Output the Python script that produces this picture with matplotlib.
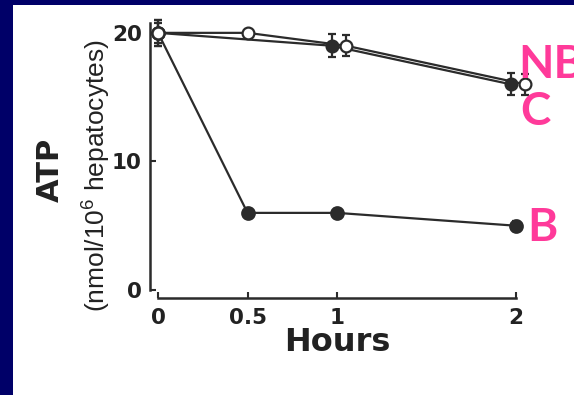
import numpy as np
import matplotlib
matplotlib.use("Agg")
import matplotlib.pyplot as plt
from matplotlib.patches import Rectangle

# ATP (nmol/10^6 hepatocytes) over time
hours_c = [0, 0.5, 1, 2]
atp_c = [20, 20, 19, 16]
err_c = [0.8, 0.0, 0.8, 0.8]

hours_nb = [0, 1, 2]
atp_nb = [20, 19, 16]
err_nb = [1.0, 0.9, 0.85]

hours_b = [0, 0.5, 1, 2]
atp_b = [20, 6, 6, 5]
err_b = [1.0, 0.3, 0.3, 0.4]

x_ticks = [0, 0.5, 1, 2]
x_ticklabels = ["0", "0.5", "1", "2"]
y_ticks = [0, 10, 20]

plt.rcParams['font.family'] = ['DejaVu Sans']
plt.rcParams['mathtext.default'] = 'regular'

navy = '#000068'
ink = '#2b2b2b'
pink = '#ff3a9a'

fig = plt.figure(figsize=(5.74, 3.95), dpi=100, facecolor=navy)
fig.patches.append(Rectangle((13 / 574, 0), 1, 390 / 395, transform=fig.transFigure,
                             facecolor='white', edgecolor='none', zorder=-5))

ax = fig.add_axes([150 / 574, 97 / 395, 370 / 574, 278 / 395])
ax.set_zorder(2)
ax.patch.set_alpha(0)


def shift(h, dx):
    h = np.asarray(h, dtype=float)
    return h + np.where(h >= 1, dx, 0)


series = [
    (shift(hours_nb, -0.03), atp_nb, err_nb, ink, 8.5),
    (shift(hours_c, 0.05), atp_c, err_c, 'white', 8.5),
    (np.asarray(hours_b), atp_b, err_b, ink, 9),
]
for i, (x, y, e, face, ms) in enumerate(series):
    lines = ax.errorbar(x, y, yerr=e, color=ink, lw=1.6, marker='o', ms=ms,
                        mfc=face, mec=ink, mew=1.6, capsize=3, elinewidth=1.6,
                        capthick=1.6, zorder=4 if face == 'white' else 3)
    for art in lines.get_children():
        art.set_clip_on(False)

ax.set_xlim(-0.045, 2.022)
ax.set_ylim(-0.62, 21.0)
for s in ['top', 'right']:
    ax.spines[s].set_visible(False)
ax.spines['left'].set_bounds(0, 20.8)
ax.spines['bottom'].set_bounds(0, 2)
for s in ['left', 'bottom']:
    ax.spines[s].set_linewidth(1.8)
    ax.spines[s].set_color(ink)

ax.set_xticks(x_ticks)
ax.set_xticklabels(x_ticklabels)
ax.set_yticks(y_ticks)
ax.tick_params(direction='in', length=4, width=1.5, color=ink, labelcolor='#222222',
               labelsize=15.5)
ax.tick_params(axis='y', pad=6)
ax.tick_params(axis='x', pad=7)
for lab in ax.get_xticklabels() + ax.get_yticklabels():
    lab.set_fontweight('bold')

fig.text(50 / 574, 0.57, 'ATP', rotation=90, ha='center', va='center',
         fontsize=22, fontweight='bold', color='#222222')
fig.text(97 / 574, 0.554, '(nmol/10$^6$ hepatocytes)', rotation=90, ha='center',
         va='center', fontsize=19, color='#222222',
         family=['Liberation Sans', 'DejaVu Sans'])
fig.text(337 / 574, 0.132, 'Hours', ha='center', va='center',
         fontsize=23, fontweight='bold', color='#222222')

lab_kw = dict(ha='left', va='center', fontsize=33, fontweight='bold', color=pink,
              family=['Lato', 'DejaVu Sans'])
fig.text(518 / 574, 0.835, 'NB', **lab_kw)
fig.text(520 / 574, 0.716, 'C', **lab_kw)
fig.text(527 / 574, 0.423, 'B', **lab_kw)

fig.savefig('out.png', dpi=100, facecolor=navy)
